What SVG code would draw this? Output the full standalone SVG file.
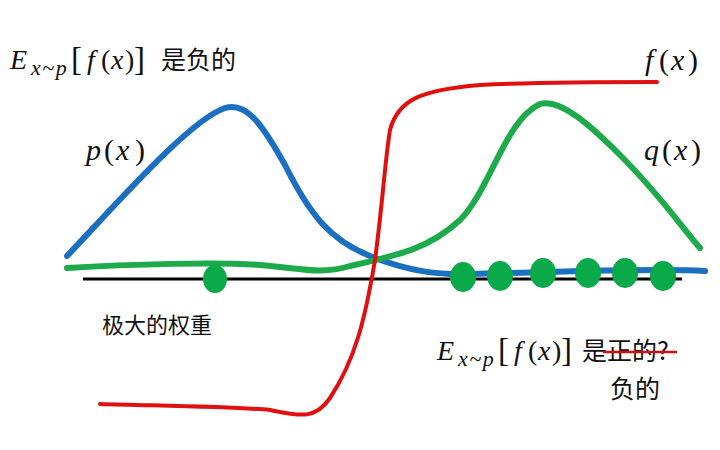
<svg xmlns="http://www.w3.org/2000/svg" width="720" height="450" viewBox="0 0 720 450">
<style>
.m{font-family:"Liberation Serif","DejaVu Serif",serif;font-style:italic;fill:#111}
.n{font-style:normal}
.s{font-size:22px;letter-spacing:1.5px}
.c{font-family:"Noto Sans CJK SC","Noto Sans",sans-serif;fill:#111}
.curve{fill:none;stroke-linecap:round;stroke-linejoin:round}
.dot{fill:#0aaa4a}
</style>
<rect width="720" height="450" fill="#fff"/>
<g id="axis"><line x1="83" y1="279" x2="682" y2="279" stroke="#000" stroke-width="3"/></g>
<g id="connectors">
<path id="p" class="curve" stroke="#1a6fc0" stroke-width="6" d="M67,256 C120,200 190,120 225,108 C245,102 260,120 285,165 C310,215 330,240 370,256 C410,272 440,275 470,274 C560,272 650,268 705,271"/>
<path id="q" class="curve" stroke="#1caa4a" stroke-width="6" d="M67,268 C130,264 220,262 260,265 C300,268 320,275 350,266 C400,255 430,248 460,220 C490,190 505,120 540,104 C560,98 590,125 620,155 C660,195 680,225 700,248"/>
<path id="f" class="curve" stroke="#e01010" stroke-width="4" d="M100,404 C170,406 240,407 270,410 C300,416 315,420 330,398 C355,360 365,320 375,260 C383,200 385,160 390,130 C398,100 420,90 480,85 C540,82 600,82 657,82"/>
</g>
<g id="dots">
<ellipse class="dot" cx="215" cy="279" rx="12" ry="14"/>
<ellipse class="dot" cx="463" cy="277" rx="13" ry="15"/>
<ellipse class="dot" cx="500" cy="276" rx="13" ry="15"/>
<ellipse class="dot" cx="543" cy="273" rx="13" ry="15"/>
<ellipse class="dot" cx="588" cy="273" rx="13" ry="15"/>
<ellipse class="dot" cx="625" cy="273" rx="13" ry="15"/>
<ellipse class="dot" cx="663" cy="276" rx="13" ry="15"/>
</g>
<g id="label-top">
<text class="m" font-size="28" y="69"><tspan x="10">E</tspan><tspan class="s" x="31" y="75">x~p</tspan><tspan class="n" x="71" y="70" font-size="33">[</tspan><tspan x="87" y="69">f</tspan><tspan class="n" x="101">(</tspan><tspan x="111">x</tspan><tspan class="n" x="125">)</tspan><tspan class="n" x="134" y="70" font-size="33">]</tspan></text>
<text class="c" x="161" y="69" font-size="25">是负的</text>
</g>
<g id="label-p"><text class="m" font-size="30" y="160"><tspan x="86">p</tspan><tspan class="n" x="104">(</tspan><tspan x="116">x</tspan><tspan class="n" x="135">)</tspan></text></g>
<g id="label-f"><text class="m" font-size="30" y="70"><tspan x="645">f</tspan><tspan class="n" x="659">(</tspan><tspan x="671">x</tspan><tspan class="n" x="688">)</tspan></text></g>
<g id="label-q"><text class="m" font-size="30" y="160"><tspan x="644">q</tspan><tspan class="n" x="662">(</tspan><tspan x="674">x</tspan><tspan class="n" x="691">)</tspan></text></g>
<g id="label-weight"><text class="c" x="102" y="333" font-size="22">极大的权重</text></g>
<g id="label-bottom">
<text class="m" font-size="28" y="360"><tspan x="437">E</tspan><tspan class="s" x="458" y="366">x~p</tspan><tspan class="n" x="498" y="361" font-size="33">[</tspan><tspan x="514" y="360">f</tspan><tspan class="n" x="528">(</tspan><tspan x="538">x</tspan><tspan class="n" x="552">)</tspan><tspan class="n" x="561" y="361" font-size="33">]</tspan></text>
<text class="c" x="582" y="360" font-size="25">是正的?</text>
<line x1="603" y1="352" x2="677" y2="352" stroke="#d01010" stroke-width="2.5"/>
<text class="c" x="610" y="398" font-size="25">负的</text>
</g>
</svg>
